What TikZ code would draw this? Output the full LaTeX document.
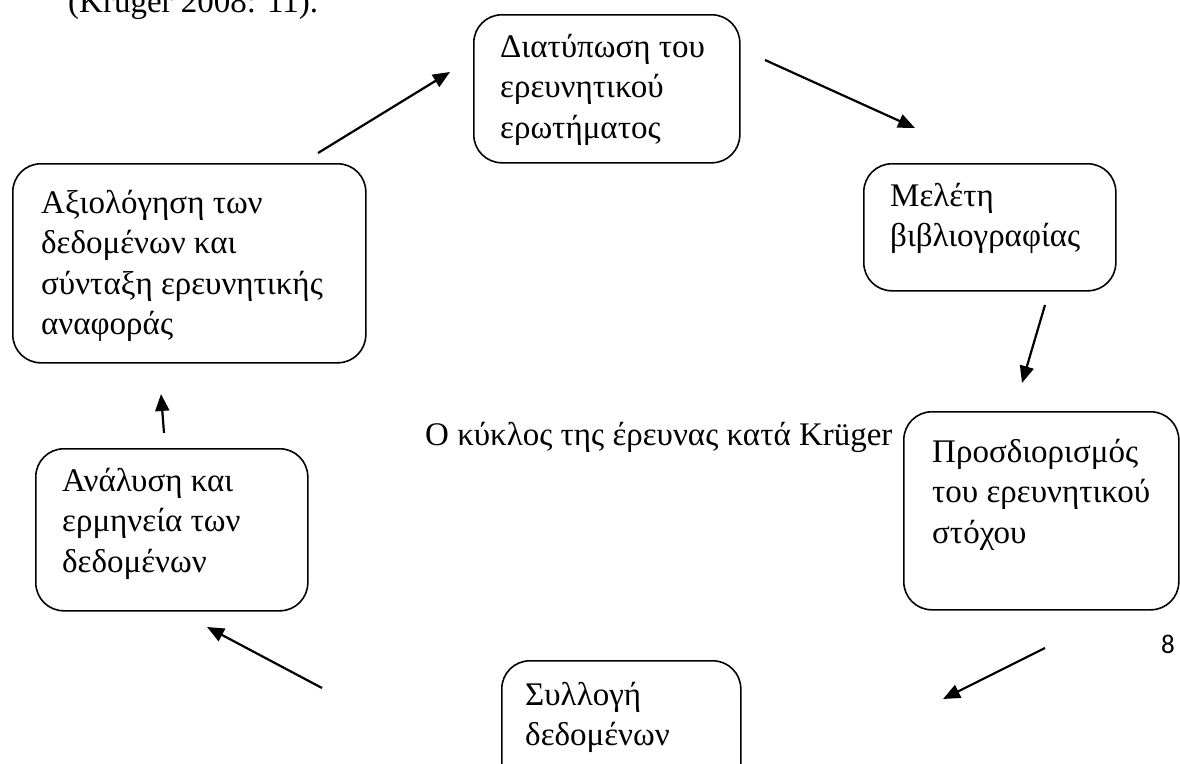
\documentclass[tikz,border=0pt]{standalone}
\usepackage{fontspec}
\setmainfont{Liberation Serif}
\newfontfamily\numfont{Carlito}
\usetikzlibrary{arrows.meta}
\newcommand{\mylines}[1]{\vtop{\halign{##\hfil\cr#1\crcr}}}
\begin{document}
\begin{tikzpicture}[x=1pt,y=-1pt,
  box/.style={draw,line width=1.6pt,rounded corners=28pt,inner sep=0pt},
  txt/.style={anchor=base west,inner sep=0pt,font=\fontsize{33}{40.5}\selectfont},
  arr/.style={line width=2.2pt,-{Triangle[length=17pt,width=14pt]}}]
\useasboundingbox (0,0) rectangle (1180,763);
\clip (0,0) rectangle (1180,763);
\node[txt] (ref) at (68,12) {(Krüger 2008: 11).};
% boxes
\node[box,minimum width=266pt,minimum height=148pt,anchor=north west] (b1) at (473,14) {};
\node[box,minimum width=252pt,minimum height=127pt,anchor=north west] (b2) at (863,163) {};
\node[box,minimum width=275pt,minimum height=198pt,anchor=north west] (b3) at (903,411) {};
\node[box,minimum width=239pt,minimum height=140pt,anchor=north west] (b4) at (501,660) {};
\node[box,minimum width=272pt,minimum height=162pt,anchor=north west] (b5) at (35,448) {};
\node[box,minimum width=353pt,minimum height=199pt,anchor=north west] (b6) at (12,163) {};
% texts
\node[txt] (t1) at (500,57) {\mylines{Διατύπωση του\cr ερευνητικού\cr ερωτήματος}};
\node[txt] (t2) at (890,206) {\mylines{Μελέτη\cr βιβλιογραφίας}};
\node[txt] (t3) at (932,462) {\mylines{Προσδιορισμός\cr του ερευνητικού\cr στόχου}};
\node[txt] (t4) at (525,705) {\mylines{Συλλογή\cr δεδομένων}};
\node[txt] (t5) at (62,491) {\mylines{Ανάλυση και\cr ερμηνεία των\cr δεδομένων}};
\node[txt] (t6) at (41,213) {\mylines{Αξιολόγηση των\cr δεδομένων και\cr σύνταξη ερευνητικής\cr αναφοράς}};
\node[txt] (title) at (425,445) {Ο κύκλος της έρευνας κατά Krüger};
\node[inner sep=0pt,font=\numfont\fontsize{27}{30}\selectfont] (pg) at (1168,644) {8};
% arrow end points
\coordinate (a1s) at (318,153); \coordinate (a1e) at (450,72);
\coordinate (a2s) at (765,60);  \coordinate (a2e) at (915,128);
\coordinate (a3s) at (1045,305); \coordinate (a3e) at (1022,383);
\coordinate (a4s) at (1045,648); \coordinate (a4e) at (943,699);
\coordinate (a5s) at (322,688); \coordinate (a5e) at (207,627);
\coordinate (a6s) at (164,433); \coordinate (a6e) at (161,394);
\draw[arr] (a1s) -- (a1e);
\draw[arr] (a2s) -- (a2e);
\draw[arr] (a3s) -- (a3e);
\draw[arr] (a4s) -- (a4e);
\draw[arr] (a5s) -- (a5e);
\draw[arr] (a6s) -- (a6e);
\end{tikzpicture}
\end{document}
